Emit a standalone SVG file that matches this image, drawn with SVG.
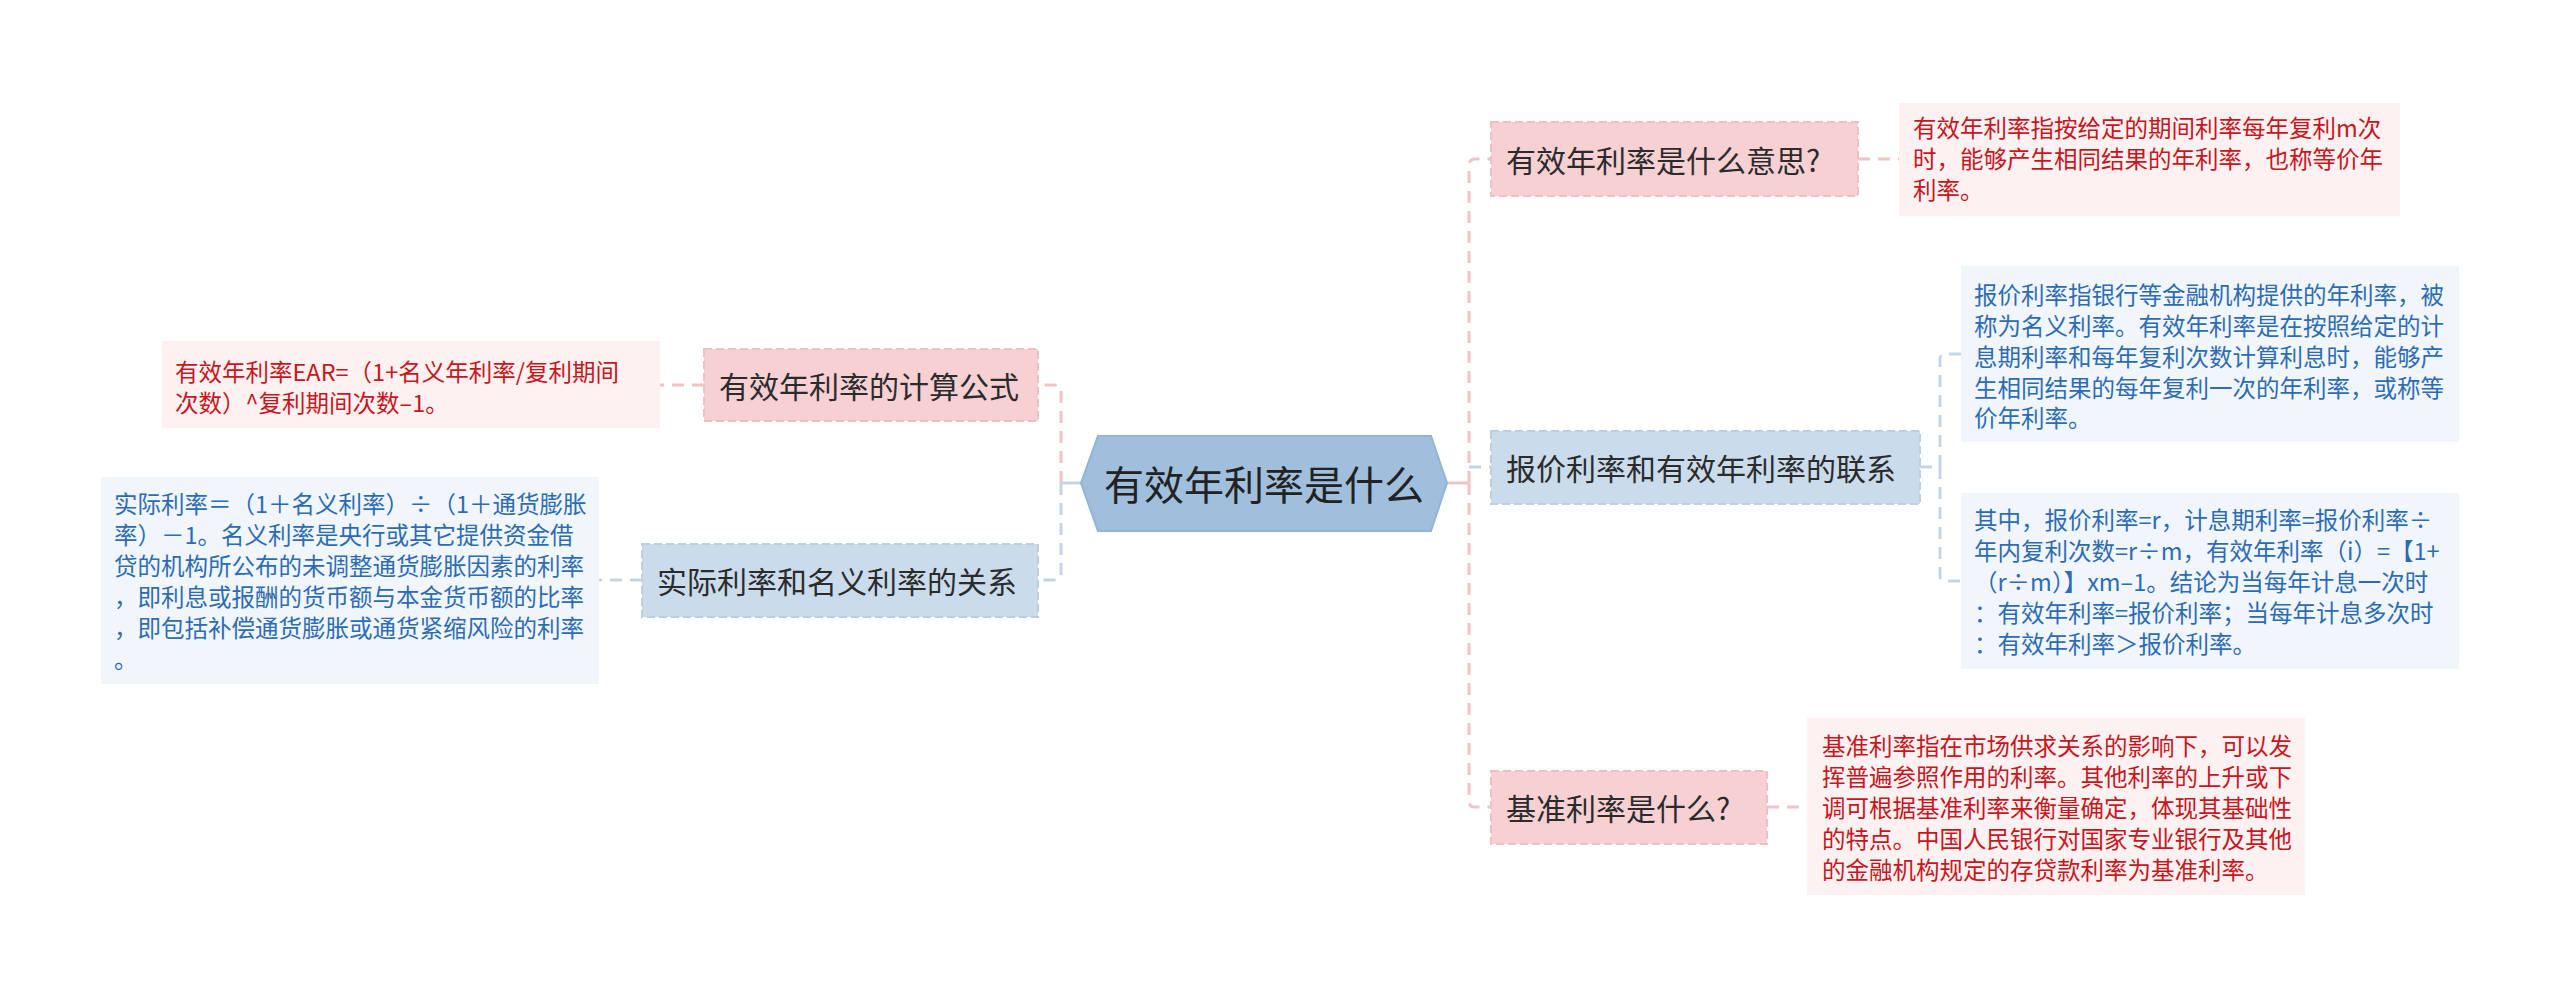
<svg xmlns="http://www.w3.org/2000/svg" width="2560" height="997" viewBox="0 0 2560 997">
<style>
text{font-family:"Noto Sans CJK SC","Noto Sans",sans-serif;dominant-baseline:central}
.c{fill:none;stroke-width:3;stroke-dasharray:12 8}
.pk{stroke:#f1c3c7}
.bl{stroke:#c5d5e6}
.n1p{fill:#f6d0d3;stroke:#eebfc3;stroke-width:2;stroke-dasharray:8 4}
.n1b{fill:#cadcec;stroke:#bccfe2;stroke-width:2;stroke-dasharray:8 4}
.t1{font-size:30px;fill:#2b2b2b}
.dp{fill:#fdf1f2}
.db{fill:#f1f6fc}
.tr{font-size:23.5px;fill:#c8161d}
.tb{font-size:23.5px;fill:#2d6cb3}
</style>
<rect width="2560" height="997" fill="#ffffff"/>
<g id="connectors">
<path class="c bl" d="M1081,483 H1061" style="stroke-dasharray:none"/>
<path class="c pk" d="M1061,483 V391 Q1061,385 1055,385 H1038"/>
<path class="c bl" d="M1061,483 V574 Q1061,580 1055,580 H1038"/>
<path class="c pk" d="M1447,483 H1469" style="stroke-dasharray:none"/>
<path class="c pk" d="M1469,483 V165 Q1469,159 1475,159 H1491"/>
<path class="c pk" d="M1469,483 V801 Q1469,807 1475,807 H1491"/>
<path class="c bl" d="M1469,467 H1491"/>
<path class="c pk" d="M1858,159 H1899"/>
<path class="c pk" d="M1767,807 H1807"/>
<path class="c pk" d="M704,385 H660"/>
<path class="c bl" d="M642,580 H599"/>
<path class="c bl" d="M1920,467 H1940"/>
<path class="c bl" d="M1940,467 V359 Q1940,354 1945,354 H1961"/>
<path class="c bl" d="M1940,467 V576 Q1940,581 1945,581 H1961"/>
</g>
<g id="root">
<polygon points="1081,483 1098,436 1431,436 1447,483 1431,531 1098,531" fill="#9fbfdd" stroke="#93b4d4" stroke-width="2"/>
<text x="1264" y="483" text-anchor="middle" style="font-size:40px;fill:#222">有效年利率是什么</text>
</g>
<g id="node-a">
<rect class="n1p" x="1491" y="122" width="367" height="74"/>
<text class="t1" x="1506" y="159">有效年利率是什么意思?</text>
</g>
<g id="desc-a">
<rect class="dp" x="1899" y="103" width="501" height="113"/>
<text class="tr" x="1913" y="127">有效年利率指按给定的期间利率每年复利m次</text>
<text class="tr" x="1913" y="158">时，能够产生相同结果的年利率，也称等价年</text>
<text class="tr" x="1913" y="189">利率。</text>
</g>
<g id="node-b">
<rect class="n1b" x="1491" y="431" width="429" height="73"/>
<text class="t1" x="1506" y="467">报价利率和有效年利率的联系</text>
</g>
<g id="desc-b1">
<rect class="db" x="1961" y="266" width="498" height="176"/>
<text class="tb" x="1974" y="294">报价利率指银行等金融机构提供的年利率，被</text>
<text class="tb" x="1974" y="325">称为名义利率。有效年利率是在按照给定的计</text>
<text class="tb" x="1974" y="356">息期利率和每年复利次数计算利息时，能够产</text>
<text class="tb" x="1974" y="387">生相同结果的每年复利一次的年利率，或称等</text>
<text class="tb" x="1974" y="417">价年利率。</text>
</g>
<g id="desc-b2">
<rect class="db" x="1961" y="493" width="498" height="176"/>
<text class="tb" x="1974" y="519">其中，报价利率=r，计息期利率=报价利率÷</text>
<text class="tb" x="1974" y="550">年内复利次数=r÷m，有效年利率（i）=【1+</text>
<text class="tb" x="1974" y="581">（r÷m）】xm–1。结论为当每年计息一次时</text>
<text class="tb" x="1974" y="612">：有效年利率=报价利率；当每年计息多次时</text>
<text class="tb" x="1974" y="643">：有效年利率＞报价利率。</text>
</g>
<g id="node-c">
<rect class="n1p" x="1491" y="771" width="276" height="73"/>
<text class="t1" x="1506" y="807">基准利率是什么?</text>
</g>
<g id="desc-c">
<rect class="dp" x="1807" y="718" width="498" height="177"/>
<text class="tr" x="1822" y="745">基准利率指在市场供求关系的影响下，可以发</text>
<text class="tr" x="1822" y="776">挥普遍参照作用的利率。其他利率的上升或下</text>
<text class="tr" x="1822" y="807">调可根据基准利率来衡量确定，体现其基础性</text>
<text class="tr" x="1822" y="838">的特点。中国人民银行对国家专业银行及其他</text>
<text class="tr" x="1822" y="869">的金融机构规定的存贷款利率为基准利率。</text>
</g>
<g id="node-d">
<rect class="n1p" x="704" y="349" width="334" height="72"/>
<text class="t1" x="719" y="385">有效年利率的计算公式</text>
</g>
<g id="desc-d">
<rect class="dp" x="162" y="341" width="498" height="87"/>
<text class="tr" x="175" y="371">有效年利率EAR=（1+名义年利率/复利期间</text>
<text class="tr" x="175" y="402">次数）^复利期间次数–1。</text>
</g>
<g id="node-e">
<rect class="n1b" x="642" y="544" width="396" height="73"/>
<text class="t1" x="657" y="580">实际利率和名义利率的关系</text>
</g>
<g id="desc-e">
<rect class="db" x="101" y="477" width="498" height="207"/>
<text class="tb" x="114" y="503">实际利率＝（1＋名义利率）÷（1＋通货膨胀</text>
<text class="tb" x="114" y="534">率）－1。名义利率是央行或其它提供资金借</text>
<text class="tb" x="114" y="565">贷的机构所公布的未调整通货膨胀因素的利率</text>
<text class="tb" x="114" y="596">，即利息或报酬的货币额与本金货币额的比率</text>
<text class="tb" x="114" y="627">，即包括补偿通货膨胀或通货紧缩风险的利率</text>
<text class="tb" x="114" y="658">。</text>
</g>
</svg>
